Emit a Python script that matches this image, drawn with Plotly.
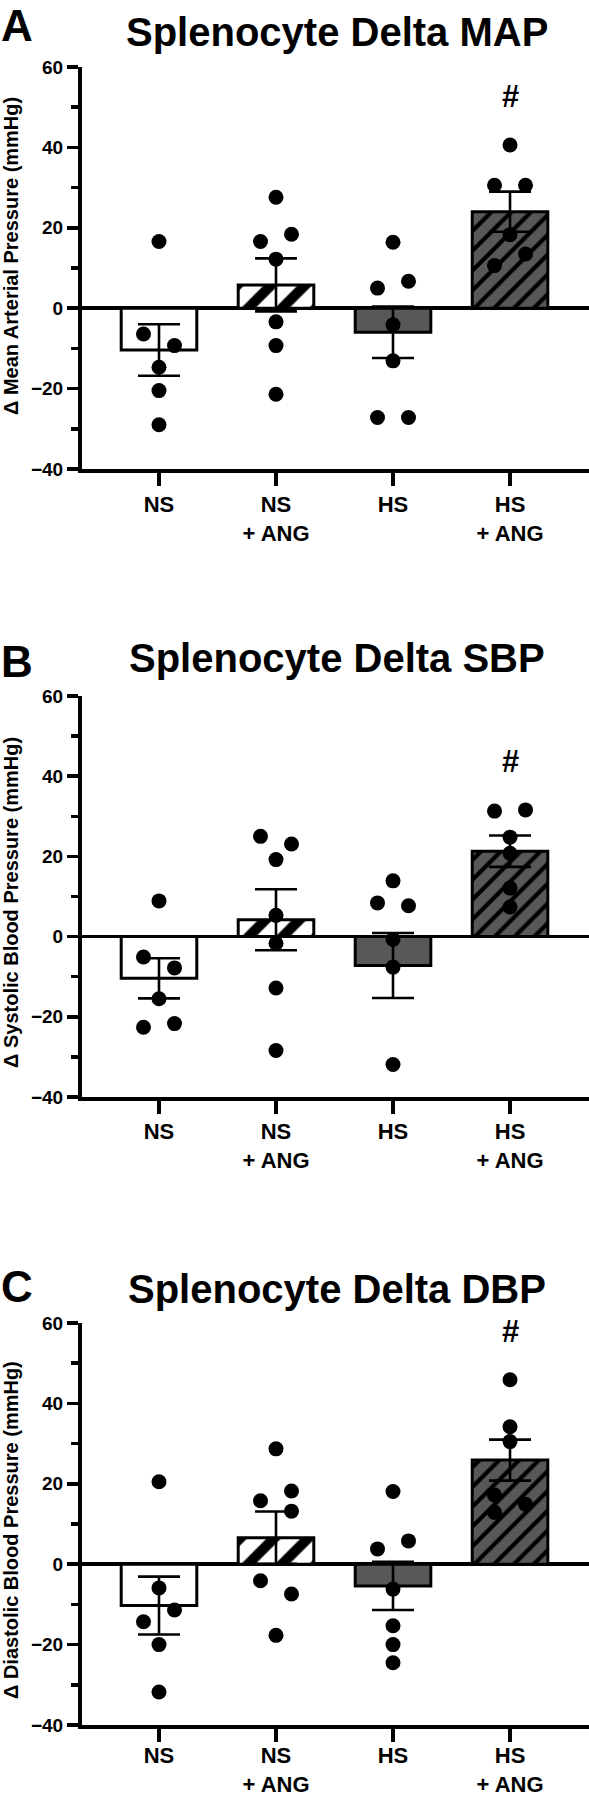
import plotly.graph_objects as go

# ---------------- data ----------------
categories = ["NS", "NS<br>+ ANG", "HS", "HS<br>+ ANG"]
panel_letters = ["A", "B", "C"]
panel_titles = ["Splenocyte Delta MAP", "Splenocyte Delta SBP", "Splenocyte Delta DBP"]
y_titles = ["Δ Mean Arterial Pressure (mmHg)",
            "Δ Systolic Blood Pressure (mmHg)",
            "Δ Diastolic Blood Pressure (mmHg)"]
y_ticks = [-40, -20, 0, 20, 40, 60]
y_minor_ticks = [-30, -10, 10, 30, 50]

# Panel A - MAP
map_ns = [16.6, -6.4, -9.3, -14.7, -20.5, -29.0]
map_ns_ang = [27.6, 16.6, 18.4, 12.2, -3.4, -9.3, -21.4]
map_hs = [16.4, 5.0, 6.7, -4.1, -13.1, -27.2, -27.2]
map_hs_ang = [40.6, 30.6, 30.6, 18.3, 10.6, 13.5]
map_mean = [-10.4, 5.8, -6.0, 24.0]
map_sem = [6.4, 6.6, 6.4, 5.0]

# Panel B - SBP
sbp_ns = [8.9, -5.1, -7.8, -15.5, -22.6, -21.7]
sbp_ns_ang = [25.0, 23.1, 19.2, 5.3, -1.7, -12.8, -28.4]
sbp_hs = [13.9, 8.4, 7.7, -0.7, -7.6, -31.9]
sbp_hs_ang = [31.3, 31.6, 20.8, 24.8, 12.1, 7.4]
sbp_mean = [-10.4, 4.2, -7.2, 21.3]
sbp_sem = [5.0, 7.6, 8.1, 3.9]

# Panel C - DBP
dbp_ns = [20.5, -5.9, -14.3, -11.4, -20.0, -31.8]
dbp_ns_ang = [28.7, 15.8, 18.2, 13.2, -4.1, -7.4, -17.7]
dbp_hs = [18.1, 3.8, 5.8, -6.2, -15.3, -20.0, -24.5]
dbp_hs_ang = [45.9, 34.2, 30.5, 17.2, 14.9, 12.9]
dbp_mean = [-10.3, 6.6, -5.4, 25.9]
dbp_sem = [7.2, 6.5, 6.0, 5.1]

sig_group = 3  # '#' marks HS + ANG
sig_text = "#"

panels = [
    dict(points=[map_ns, map_ns_ang, map_hs, map_hs_ang], mean=map_mean, sem=map_sem),
    dict(points=[sbp_ns, sbp_ns_ang, sbp_hs, sbp_hs_ang], mean=sbp_mean, sem=sbp_sem),
    dict(points=[dbp_ns, dbp_ns_ang, dbp_hs, dbp_hs_ang], mean=dbp_mean, sem=dbp_sem),
]

# ---------------- layout constants ----------------
W, H = 589, 1794
FONT = "Liberation Sans, Arial, Helvetica, sans-serif"
# pixel rows of the y=60 and y=-40 ticks for each panel
panel_px = [(67, 469), (696, 1097), (1323, 1725)]
title_px = [31.5, 658.5, 1288.5]
letter_px = [0, 636, 1261]   # top of the letter's text box
ytitle_px = [256, 903, 1530]
label_standoff = [0, -1, -5]
x_dom = [82 / W, 1.0]
x_range = [-0.658, 3.675]
BAR_W = 0.646
SWARM_STEP = 0.1325   # category units between swarm columns
SWARM_GAP = 3.6       # data units below which two dots overlap

bar_fill = ["white", "white", "#585858", "#585858"]
hatch_shape = ["", "/", "", "/"]
hatch_color = ["rgba(0,0,0,0)", "black", "rgba(0,0,0,0)", "black"]
hatch_size = [24, 24, 14, 14]
hatch_solid = [0.42, 0.42, 0.3, 0.3]


def swarm_columns(values, gap):
    n = len(values)
    order = sorted(range(n), key=lambda i: -values[i])
    col = [0] * n
    placed = []
    for i in order:
        v = values[i]
        hits = [j for j in placed if col[j] == 0 and abs(values[j] - v) < gap]
        if hits:
            j = hits[-1]
            left, right = (j, i) if j < i else (i, j)
            col[left], col[right] = -1, 1
        else:
            near = [j for j in placed if col[j] != 0 and abs(values[j] - v) < gap]
            if near:
                j = min(near, key=lambda k: abs(values[k] - v))
                col[i] = -col[j]
            else:
                col[i] = 0
        placed.append(i)
    return col


fig = go.Figure()
annotations = []
layout_axes = {}

for p, panel in enumerate(panels):
    sfx = "" if p == 0 else str(p + 1)
    xref, yref = "x" + sfx, "y" + sfx
    top_px, bot_px = panel_px[p]
    cats_x = list(range(len(categories)))

    # solid fill
    fig.add_trace(go.Bar(
        x=cats_x, y=panel["mean"], width=BAR_W,
        marker=dict(color=bar_fill, line=dict(width=0)),
        xaxis=xref, yaxis=yref, showlegend=False, hoverinfo="skip"))
    # hatching (stripes only, transparent background)
    fig.add_trace(go.Bar(
        x=cats_x, y=panel["mean"], width=BAR_W,
        marker=dict(color=hatch_color, line=dict(width=0),
                    pattern=dict(shape=hatch_shape, size=hatch_size,
                                 solidity=hatch_solid, fillmode="replace")),
        xaxis=xref, yaxis=yref, showlegend=False, hoverinfo="skip"))
    # outline
    fig.add_trace(go.Bar(
        x=cats_x, y=panel["mean"], width=BAR_W,
        marker=dict(color="rgba(0,0,0,0)", line=dict(color="black", width=3)),
        xaxis=xref, yaxis=yref, showlegend=False, hoverinfo="skip"))

    fig.add_trace(go.Scatter(
        x=cats_x, y=panel["mean"], mode="markers",
        marker=dict(size=1, color="rgba(0,0,0,0)"),
        error_y=dict(type="data", array=panel["sem"], visible=True,
                     color="black", thickness=2.6, width=21),
        xaxis=xref, yaxis=yref, showlegend=False, hoverinfo="skip"))

    xs, ys = [], []
    for g, vals in enumerate(panel["points"]):
        cols = swarm_columns(vals, SWARM_GAP)
        for v, c in zip(vals, cols):
            xs.append(g + c * SWARM_STEP)
            ys.append(v)
    fig.add_trace(go.Scatter(
        x=xs, y=ys, mode="markers",
        marker=dict(size=15, color="black", line=dict(width=0)),
        xaxis=xref, yaxis=yref, showlegend=False, hoverinfo="skip"))

    ydom = [1 - bot_px / H, 1 - top_px / H]
    layout_axes["xaxis" + sfx] = dict(
        domain=x_dom, range=x_range, anchor=yref, automargin=False,
        tickmode="array", tickvals=cats_x, ticktext=categories,
        showline=True, linewidth=4, linecolor="black",
        ticks="outside", ticklen=13, tickwidth=3.5, tickcolor="black",
        ticklabelstandoff=label_standoff[p],
        tickfont=dict(family=FONT, size=22, color="black", weight="bold"),
        showgrid=False, zeroline=False, fixedrange=True)
    layout_axes["yaxis" + sfx] = dict(
        domain=ydom, range=[-40, 60], anchor=xref, automargin=False,
        tickmode="array", tickvals=y_ticks,
        showline=True, linewidth=4, linecolor="black",
        ticks="outside", ticklen=11, tickwidth=3.5, tickcolor="black",
        minor=dict(tickmode="array", tickvals=y_minor_ticks, ticks="outside",
                   ticklen=7, tickwidth=3.5, tickcolor="black", showgrid=False),
        tickfont=dict(family=FONT, size=19, color="black", weight="bold"),
        showgrid=False, zeroline=True, zerolinecolor="black", zerolinewidth=3.5,
        fixedrange=True)

    # panel letter
    annotations.append(dict(
        text=panel_letters[p], xref="paper", yref="paper", x=0, y=1 - letter_px[p] / H,
        xanchor="left", yanchor="top", showarrow=False, borderpad=0,
        font=dict(family=FONT, size=44, color="black", weight="bold")))
    # title
    annotations.append(dict(
        text=panel_titles[p], xref="paper", yref="paper", x=336.5 / W, y=1 - title_px[p] / H,
        xanchor="center", yanchor="middle", showarrow=False,
        font=dict(family=FONT, size=40, color="black", weight="bold")))
    # y-axis title
    annotations.append(dict(
        text=y_titles[p], xref="paper", yref="paper", x=11 / W, y=1 - ytitle_px[p] / H,
        xanchor="center", yanchor="middle", textangle=-90, showarrow=False,
        font=dict(family=FONT, size=20, color="black", weight="bold")))
    # significance mark
    annotations.append(dict(
        text=sig_text, xref=xref, yref=yref, x=sig_group,
        y=max(panel["points"][sig_group]), yshift=48,
        xanchor="center", yanchor="middle", showarrow=False,
        font=dict(family=FONT, size=31, color="black", weight="bold")))

fig.update_layout(
    template="none", barmode="overlay",
    width=W, height=H, margin=dict(l=0, r=0, t=0, b=0, autoexpand=False),
    paper_bgcolor="white", plot_bgcolor="white",
    annotations=annotations, bargap=0, **layout_axes)

fig.write_html("out.html", config={"displayModeBar": False, "staticPlot": True},
               post_script="document.body.style.margin='0';document.body.style.padding='0';")
